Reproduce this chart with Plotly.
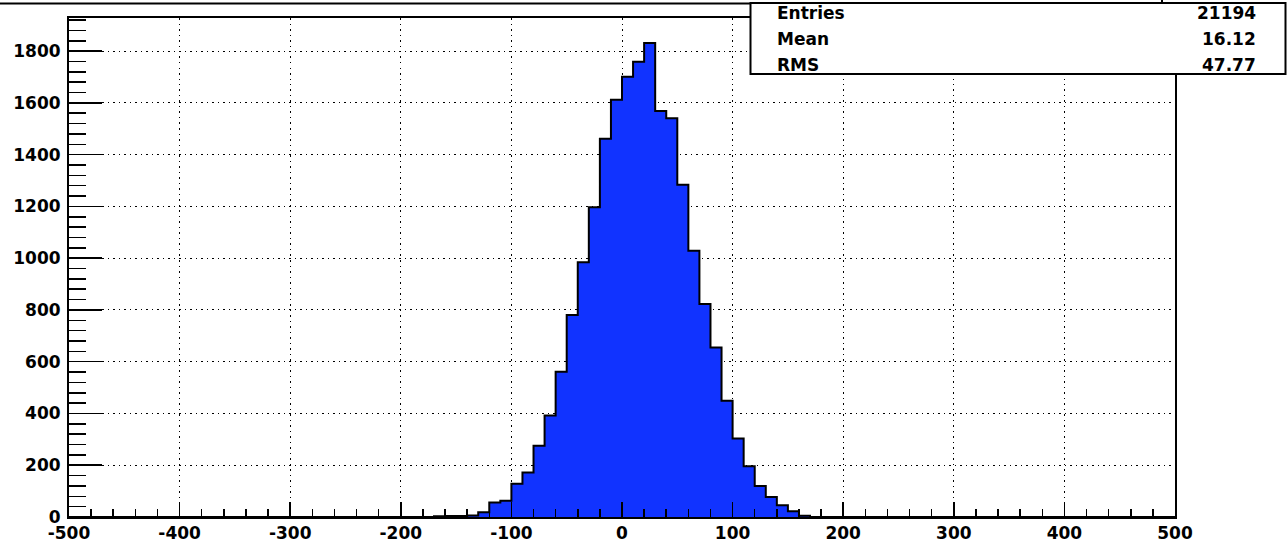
import plotly.graph_objects as go

# ---- data (10-unit bins) ----
bin_low_edges = list(range(-170, 170, 10))
bin_counts = [3, 4, 4, 6, 18, 56, 63, 128, 172, 275, 392, 561, 780, 984, 1197,
              1461, 1612, 1701, 1759, 1831, 1569, 1541, 1284, 1029, 823, 655,
              449, 303, 196, 120, 77, 45, 22, 5]
bin_width = 10
x_range = [-500, 500]
x_tick_vals = [-500, -400, -300, -200, -100, 0, 100, 200, 300, 400, 500]
x_tick_labels = ["-500", "-400", "-300", "-200", "-100", "0", "100", "200", "300", "400", "500"]
y_tick_vals = [0, 200, 400, 600, 800, 1000, 1200, 1400, 1600, 1800]
y_tick_labels = [str(v) for v in y_tick_vals]
stats_names = ["Entries", "Mean", "RMS"]
stats_values = ["21194", "16.12", "47.77"]

# step outline (ROOT style histogram)
step_x = [x_range[0]] + bin_low_edges + [bin_low_edges[-1] + bin_width, x_range[1]]
step_y = [0] + bin_counts + [0, 0]

fig = go.Figure()
fig.add_trace(go.Scatter(
    x=step_x, y=step_y, mode="lines", line=dict(shape="hv", color="black", width=2),
    fill="tozeroy", fillcolor="#1133ff", hoverinfo="skip", showlegend=False,
))

W, H = 1287, 547
L, R, T, B = 69, 1175, 18, 517


def px(xp):
    return (xp - L) / (R - L)


def py(yp):
    return (B - yp) / (B - T)


font = dict(family="DejaVu Sans", size=17, color="black", weight="bold")

fig.update_layout(
    width=W, height=H,
    margin=dict(l=L, r=W - R, t=T, b=H - B, pad=0, autoexpand=False),
    paper_bgcolor="white", plot_bgcolor="white",
    font=font, showlegend=False,
)

grid_dash = "1.5px,4px"
fig.update_xaxes(
    range=x_range, tickvals=x_tick_vals, ticktext=x_tick_labels,
    ticks="inside", ticklen=15, tickwidth=1.5, tickcolor="black",
    minor=dict(dtick=20, tick0=0, ticks="inside", ticklen=8, tickwidth=1.5, tickcolor="black", showgrid=False),
    showgrid=True, gridcolor="black", gridwidth=1, griddash=grid_dash,
    showline=True, linecolor="black", linewidth=2, mirror=True,
    zeroline=False, tickfont=font, automargin=False,
)
fig.update_yaxes(
    range=[0, 1928], tickvals=y_tick_vals, ticktext=y_tick_labels,
    ticks="inside", ticklen=33, tickwidth=1.5, tickcolor="black",
    minor=dict(dtick=40, tick0=0, ticks="inside", ticklen=17, tickwidth=1.5, tickcolor="black", showgrid=False),
    showgrid=True, gridcolor="black", gridwidth=1, griddash=grid_dash,
    showline=True, linecolor="black", linewidth=2, mirror=True,
    zeroline=False, tickfont=font, ticklabelstandoff=3, automargin=False,
)

# title box (cut off at top) and stats box
fig.add_shape(type="rect", xref="paper", yref="paper",
              x0=px(-20), x1=px(1162), y0=py(3.5), y1=py(-40),
              line=dict(color="black", width=2), fillcolor="white", layer="above")
fig.add_shape(type="rect", xref="paper", yref="paper",
              x0=px(750.5), x1=px(1285.5), y0=py(74), y1=py(3),
              line=dict(color="black", width=2), fillcolor="white", layer="above")

row_y = [13, 39, 65]
for name, val, yy in zip(stats_names, stats_values, row_y):
    fig.add_annotation(xref="paper", yref="paper", x=px(775), y=py(yy), text=name,
                       showarrow=False, xanchor="left", yanchor="middle", font=font)
    fig.add_annotation(xref="paper", yref="paper", x=px(1258), y=py(yy), text=val,
                       showarrow=False, xanchor="right", yanchor="middle", font=font)

fig.write_html(
    "out.html",
    config={"displayModeBar": False, "staticPlot": True},
    post_script="document.body.style.margin='0';document.body.style.padding='0';"
                "document.body.style.overflow='hidden';",
)
